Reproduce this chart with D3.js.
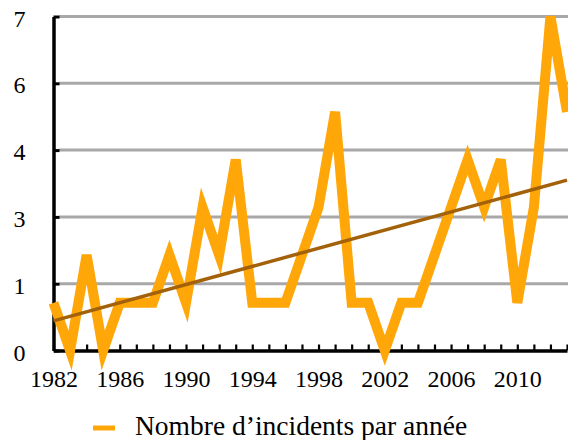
<!DOCTYPE html>
<html>
<head>
<meta charset="utf-8">
<script src="https://cdn.jsdelivr.net/npm/d3@7"></script>
<style>
  html, body { margin: 0; padding: 0; background: #fff; }
  svg { display: block; }
  text { font-family: "Liberation Serif", "Times New Roman", serif; fill: #000; }
</style>
</head>
<body>
<svg id="chart" width="568" height="440"></svg>
<script>
// ---- data ----
const years = [1982,1983,1984,1985,1986,1987,1988,1989,1990,1991,1992,1993,1994,1995,1996,1997,
               1998,1999,2000,2001,2002,2003,2004,2005,2006,2007,2008,2009,2010,2011,2012,2013];
const incidents = [1,0,2,0,1,1,1,2,1,3,2,4,1,1,1,2,3,5,1,1,0,1,1,2,3,4,3,4,1,3,7,5];
const trendYears = [1982, 2013];
const trendValues = [0.62, 3.57];
const yTickValues = [0, 1.4, 2.8, 4.2, 5.6, 7];
const yTickLabels = ["0", "1", "3", "4", "6", "7"];
const xLabelYears = [1982, 1986, 1990, 1994, 1998, 2002, 2006, 2010];
const legendLabel = "Nombre d’incidents par année";

// ---- layout ----
const svg = d3.select("#chart");
const x = d3.scaleLinear().domain([1982, 2013]).range([53.5, 567]);
const y = d3.scaleLinear().domain([0, 7]).range([350.5, 16.5]);

// gridlines
svg.append("g")
  .selectAll("line")
  .data(yTickValues.filter(v => v > 0))
  .join("line")
  .attr("x1", 59).attr("x2", 568)
  .attr("y1", d => y(d)).attr("y2", d => y(d))
  .attr("stroke", "#a8a8a8").attr("stroke-width", 3);

// left axis
const yAxis = d3.axisLeft(y)
  .tickValues(yTickValues)
  .tickSize(-6)
  .tickSizeOuter(0)
  .tickPadding(28)
  .tickFormat((d, i) => yTickLabels[i]);
const gy = svg.append("g").attr("transform", `translate(${x(1982)},0)`).call(yAxis);
gy.select(".domain").attr("stroke", "#000").attr("stroke-width", 3.5);
gy.selectAll(".tick line").attr("stroke", "#000").attr("stroke-width", 3);
gy.selectAll(".tick text")
  .attr("font-size", 24)
  .attr("font-family", "Liberation Serif")
  .attr("dy", "0.4em");

// bottom axis
const xAxis = d3.axisBottom(x)
  .tickValues(years)
  .tickSize(-6)
  .tickSizeOuter(0)
  .tickFormat(d => xLabelYears.includes(d) ? String(d) : "");
const gx = svg.append("g").attr("transform", `translate(0,${y(0)})`).call(xAxis);
gx.select(".domain").attr("stroke", "#000").attr("stroke-width", 3.5);
gx.selectAll(".tick line").attr("stroke", "#000").attr("stroke-width", 2.2);
gx.selectAll(".tick text")
  .attr("font-size", 24)
  .attr("font-family", "Liberation Serif")
  .attr("y", 36).attr("dy", 0);

// data line
const line = d3.line().x((d, i) => x(years[i])).y(d => y(d));
svg.append("path")
  .datum(incidents)
  .attr("d", line)
  .attr("fill", "none")
  .attr("stroke", "#FFA708")
  .attr("stroke-width", 10)
  .attr("stroke-linejoin", "miter")
  .attr("stroke-miterlimit", 4.2);

// trend line
const tline = d3.line().x((d, i) => x(trendYears[i])).y(d => y(d));
svg.append("path")
  .datum(trendValues)
  .attr("d", tline)
  .attr("fill", "none")
  .attr("stroke", "#A3620A")
  .attr("stroke-width", 3.5);

// legend
svg.append("line")
  .attr("x1", 93).attr("x2", 115).attr("y1", 428).attr("y2", 428)
  .attr("stroke", "#FFA708").attr("stroke-width", 5);
svg.append("text")
  .attr("x", 135).attr("y", 435)
  .attr("font-size", 27.5)
  .text(legendLabel);
</script>
</body>
</html>
